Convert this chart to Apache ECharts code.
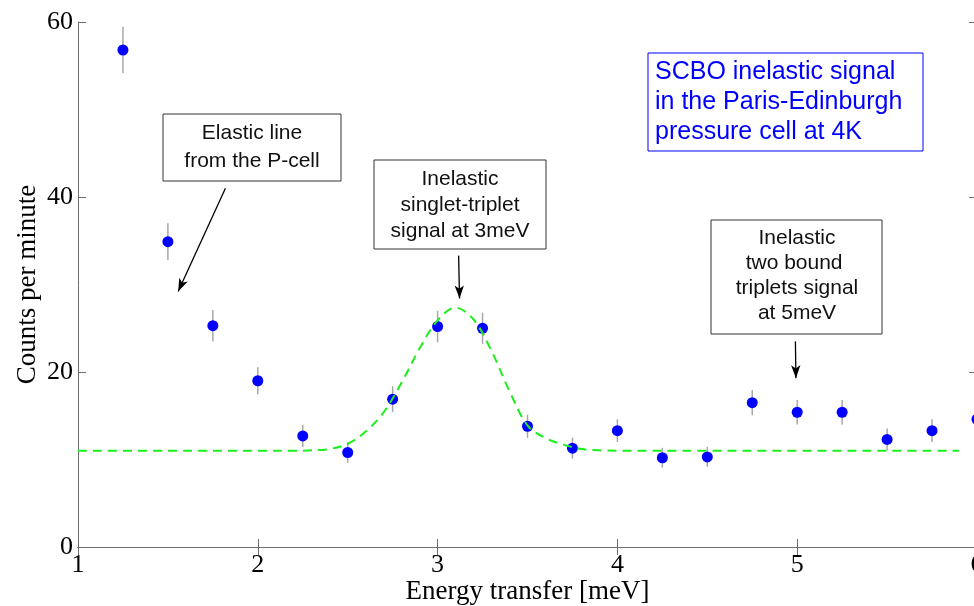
<!DOCTYPE html>
<html>
<head>
<meta charset="utf-8">
<script src="https://cdn.jsdelivr.net/npm/echarts@6/dist/echarts.min.js"></script>
<style>
  html, body { margin: 0; padding: 0; background: #fff; }
  #box { width: 974px; height: 606px; }
</style>
</head>
<body>
<div id="box"></div>
<script>
// measured points (counts per minute) with error bars
const energy = [1.25, 1.5, 1.75, 2.0, 2.25, 2.5, 2.75, 3.0, 3.25, 3.5, 3.75, 4.0, 4.25, 4.5, 4.75, 5.0, 5.25, 5.5, 5.75, 6.0];
const counts = [56.8, 34.9, 25.3, 19.0, 12.7, 10.8, 16.9, 25.2, 25.0, 13.8, 11.3, 13.3, 10.2, 10.3, 16.5, 15.4, 15.4, 12.3, 13.3, 14.6];
const errors = [2.67, 2.1, 1.8, 1.55, 1.27, 1.17, 1.46, 1.8, 1.78, 1.32, 1.2, 1.3, 1.13, 1.14, 1.44, 1.39, 1.39, 1.25, 1.3, 1.36];

// fitted curve
const fitX = [1.0, 1.5, 2.0, 2.2, 2.3, 2.4, 2.5, 2.6, 2.7, 2.8, 2.9, 3.0, 3.1, 3.2, 3.3, 3.4, 3.5, 3.6, 3.7, 3.8, 3.9, 4.0, 4.5, 5.0, 5.5, 5.9];
const fitY = [11.0, 11.0, 11.0, 11.0, 11.05, 11.2, 11.8, 13.2, 15.4, 18.8, 22.7, 25.9, 27.35, 26.0, 22.4, 17.8, 13.9, 12.45, 11.7, 11.2, 11.05, 11.0, 11.0, 11.0, 11.0, 11.0];

const xTicks = [1, 2, 3, 4, 5, 6];
const yTicks = [0, 20, 40, 60];

// arrows of the annotations, in data units
const arrows = [
  [[1.82, 41.0], [1.557, 29.2]],
  [[3.117, 33.3], [3.122, 28.4]],
  [[4.99, 23.5], [4.993, 19.3]]
];

const serif = '"Liberation Serif", "DejaVu Serif", serif';
const sans = '"Liberation Sans", Arial, sans-serif';
const axisColor = '#6e6e6e';

const chart = echarts.init(document.getElementById('box'));

function axisX(pos, labels) {
  return {
    type: 'value', position: pos, min: xTicks[0], max: xTicks[xTicks.length - 1], interval: 1,
    axisLine: { show: true, lineStyle: { color: axisColor, width: 1 } },
    axisTick: { show: true, inside: true, length: 8, lineStyle: { color: axisColor } },
    axisLabel: { show: labels, color: '#000', fontFamily: serif, fontSize: 26, margin: 5 },
    splitLine: { show: false }
  };
}
function axisY(pos, labels) {
  return {
    type: 'value', position: pos, min: yTicks[0], max: yTicks[yTicks.length - 1], interval: 20,
    axisLine: { show: true, lineStyle: { color: axisColor, width: 1 } },
    axisTick: { show: true, inside: true, length: 8, lineStyle: { color: axisColor } },
    axisLabel: { show: labels, color: '#000', fontFamily: serif, fontSize: 26, margin: 5 },
    splitLine: { show: false }
  };
}

const xBottom = axisX('bottom', true);
xBottom.name = 'Energy transfer [meV]';
xBottom.nameLocation = 'middle';
xBottom.nameGap = 31;
xBottom.nameMoveOverlap = false;
xBottom.nameTextStyle = { color: '#000', fontFamily: serif, fontSize: 27 };

const yLeft = axisY('left', true);
yLeft.name = 'Counts per minute';
yLeft.nameLocation = 'middle';
yLeft.nameGap = 37;
yLeft.nameMoveOverlap = false;
yLeft.nameTextStyle = { color: '#000', fontFamily: serif, fontSize: 27 };

function box(x, y, w, h, txt, opts) {
  return {
    type: 'group',
    children: [
      { type: 'rect', shape: { x: x, y: y, width: w, height: h },
        style: { fill: '#fff', stroke: opts.stroke, lineWidth: 1 } },
      { type: 'text', x: opts.tx, y: opts.ty,
        style: { text: txt, font: opts.font, fill: opts.fill, lineHeight: opts.lh,
          align: opts.align, textAlign: opts.align, verticalAlign: 'middle', textVerticalAlign: 'middle' } }
    ]
  };
}

const option = {
  backgroundColor: '#fff',
  animation: false,
  grid: { left: 78, top: 22, width: 899, height: 525, containLabel: false, outerBoundsMode: 'none' },
  xAxis: [xBottom, axisX('top', false)],
  yAxis: [yLeft, axisY('right', false)],
  series: [
    {
      type: 'custom',
      z: 1,
      data: energy.map((e, i) => [e, counts[i], errors[i]]),
      renderItem: function (params, api) {
        const lo = api.coord([api.value(0), api.value(1) - api.value(2)]);
        const hi = api.coord([api.value(0), api.value(1) + api.value(2)]);
        return {
          type: 'line',
          shape: { x1: lo[0], y1: lo[1], x2: hi[0], y2: hi[1] },
          style: { stroke: '#a8a8a8', lineWidth: 1.5 }
        };
      }
    },
    {
      type: 'scatter',
      z: 2,
      symbol: 'circle',
      symbolSize: 11,
      itemStyle: { color: '#0000ff', opacity: 1 },
      data: energy.map((e, i) => [e, counts[i]])
    },
    {
      type: 'line',
      z: 3,
      smooth: 0.35,
      showSymbol: false,
      lineStyle: { color: '#1eee1e', width: 2, type: [9, 6] },
      data: fitX.map((x, i) => [x, fitY[i]])
    },
    {
      type: 'line',
      z: 4,
      data: [],
      markLine: {
        silent: true,
        animation: false,
        symbol: ['none', 'arrow'],
        symbolSize: [7, 13],
        label: { show: false },
        lineStyle: { color: '#000', width: 1.3, type: 'solid' },
        data: arrows.map(a => [{ coord: a[0] }, { coord: a[1] }])
      }
    }
  ],
  graphic: [
    box(163, 114, 178, 67, 'Elastic line\nfrom the P-cell',
      { stroke: '#333', fill: '#111', font: '21px ' + sans, lh: 28, tx: 252, ty: 147, align: 'center' }),
    box(374, 160, 172, 89, 'Inelastic\nsinglet-triplet\nsignal at 3meV',
      { stroke: '#333', fill: '#111', font: '21px ' + sans, lh: 26, tx: 460, ty: 205, align: 'center' }),
    box(711, 220, 171, 114, 'Inelastic\ntwo bound \ntriplets signal\nat 5meV',
      { stroke: '#333', fill: '#111', font: '21px ' + sans, lh: 25, tx: 797, ty: 276, align: 'center' }),
    box(648, 53, 275, 98, 'SCBO inelastic signal\nin the Paris-Edinburgh\npressure cell at 4K',
      { stroke: '#0000ff', fill: '#0000ff', font: '25px ' + sans, lh: 30, tx: 655, ty: 102, align: 'left' })
  ]
};

chart.setOption(option);
</script>
</body>
</html>
